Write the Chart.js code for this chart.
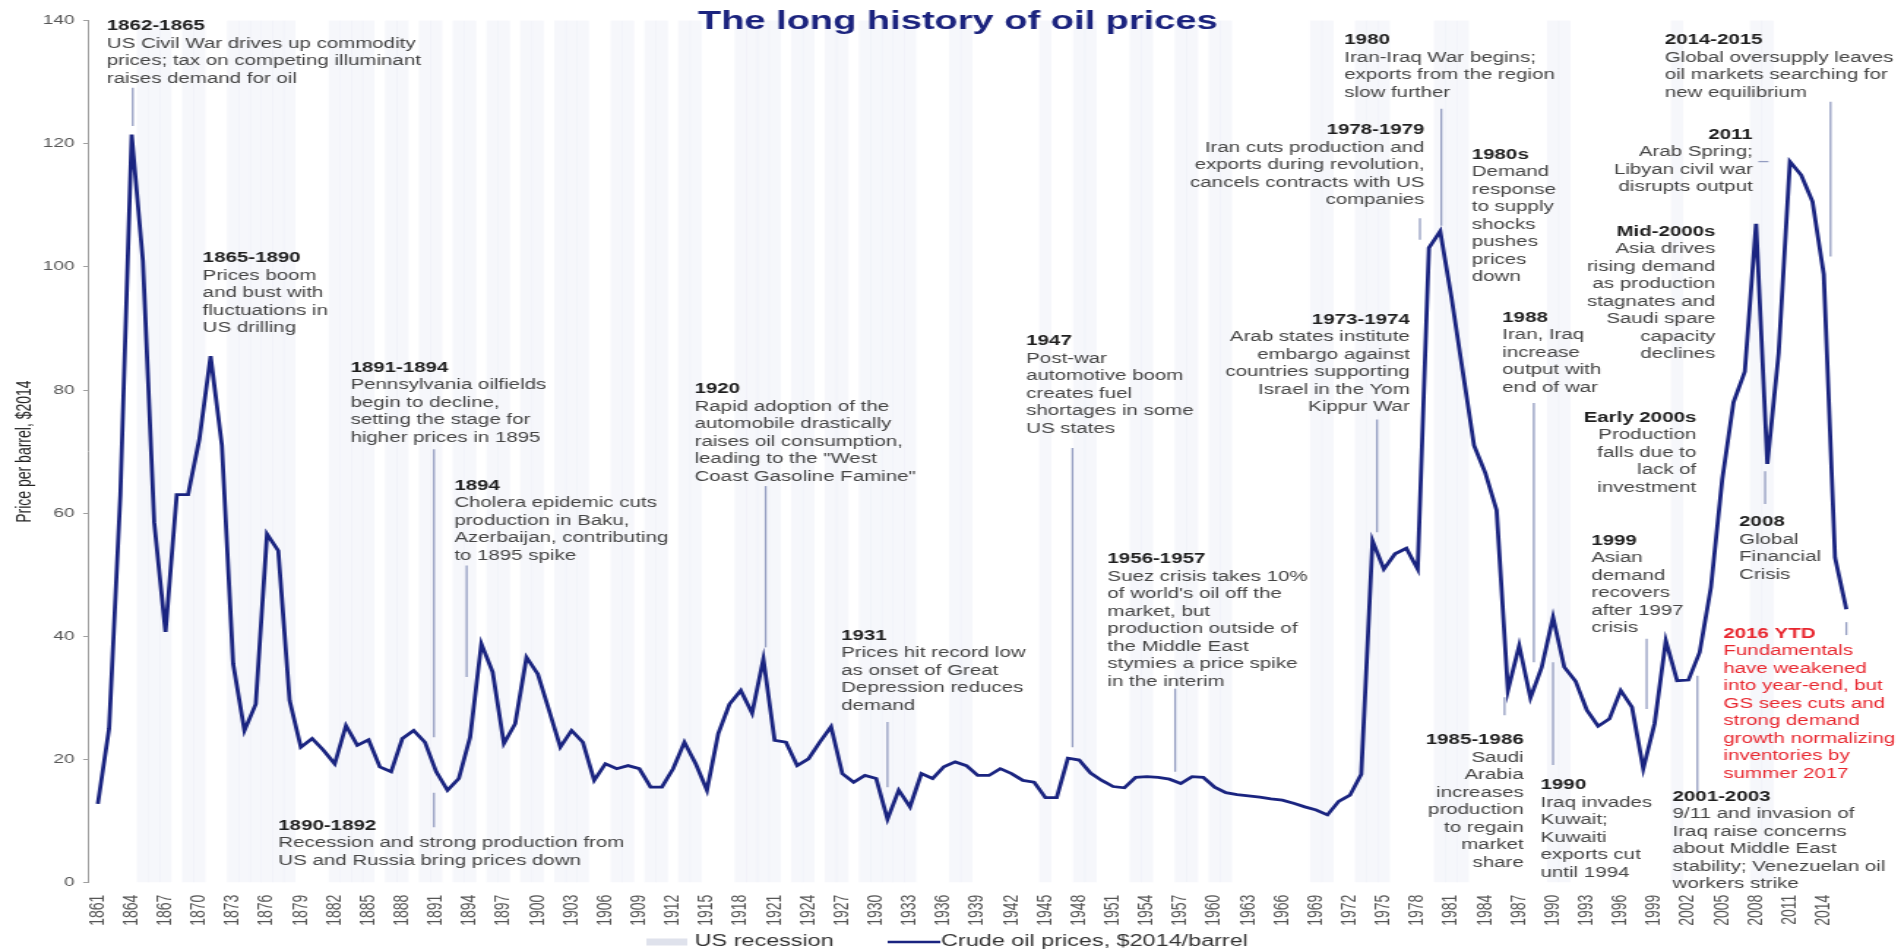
<!DOCTYPE html>
<html>
<head>
<meta charset="utf-8">
<title>The long history of oil prices</title>
<script src="https://cdn.jsdelivr.net/npm/chart.js@4.4.1/dist/chart.umd.min.js"></script>
<style>
  html, body { margin: 0; padding: 0; background: #fff; }
  #wrap { width: 1901px; height: 950px; overflow: hidden; }
  canvas { display: block; }
</style>
</head>
<body>
<div id="wrap">
  <!-- the source picture is stretched sideways, so the canvas is drawn narrow and widened by css -->
  <canvas id="chart" width="1300" height="950" style="width:1901px;height:950px"></canvas>
</div>
<script>
// crude oil prices, $2014/barrel, one value per year
const years = [
  1861, 1862, 1863, 1864, 1865, 1866, 1867, 1868, 1869, 1870,
  1871, 1872, 1873, 1874, 1875, 1876, 1877, 1878, 1879, 1880,
  1881, 1882, 1883, 1884, 1885, 1886, 1887, 1888, 1889, 1890,
  1891, 1892, 1893, 1894, 1895, 1896, 1897, 1898, 1899, 1900,
  1901, 1902, 1903, 1904, 1905, 1906, 1907, 1908, 1909, 1910,
  1911, 1912, 1913, 1914, 1915, 1916, 1917, 1918, 1919, 1920,
  1921, 1922, 1923, 1924, 1925, 1926, 1927, 1928, 1929, 1930,
  1931, 1932, 1933, 1934, 1935, 1936, 1937, 1938, 1939, 1940,
  1941, 1942, 1943, 1944, 1945, 1946, 1947, 1948, 1949, 1950,
  1951, 1952, 1953, 1954, 1955, 1956, 1957, 1958, 1959, 1960,
  1961, 1962, 1963, 1964, 1965, 1966, 1967, 1968, 1969, 1970,
  1971, 1972, 1973, 1974, 1975, 1976, 1977, 1978, 1979, 1980,
  1981, 1982, 1983, 1984, 1985, 1986, 1987, 1988, 1989, 1990,
  1991, 1992, 1993, 1994, 1995, 1996, 1997, 1998, 1999, 2000,
  2001, 2002, 2003, 2004, 2005, 2006, 2007, 2008, 2009, 2010,
  2011, 2012, 2013, 2014, 2015, 2016
];
const prices = [
  12.8, 25.0, 63.0, 121.5, 101.0, 58.5, 40.7, 63.0, 63.0, 72.0,
  85.5, 71.0, 35.5, 24.7, 29.0, 56.6, 53.9, 29.6, 22.0, 23.4,
  21.5, 19.3, 25.5, 22.3, 23.2, 18.8, 18.0, 23.4, 24.7, 22.8,
  18.0, 15.0, 16.9, 23.6, 38.8, 34.2, 22.6, 25.8, 36.6, 33.9,
  28.0, 22.0, 24.7, 22.8, 16.6, 19.3, 18.5, 19.0, 18.5, 15.5,
  15.5, 18.5, 22.8, 19.3, 15.0, 24.2, 29.0, 31.2, 27.5, 36.3,
  23.1, 22.8, 19.0, 20.1, 22.8, 25.3, 17.7, 16.3, 17.4, 16.9,
  10.3, 15.0, 12.3, 17.7, 16.9, 18.8, 19.6, 19.0, 17.4, 17.4,
  18.5, 17.7, 16.6, 16.3, 13.8, 13.8, 20.2, 19.9, 17.8, 16.6,
  15.6, 15.4, 17.1, 17.2, 17.1, 16.8, 16.1, 17.2, 17.1, 15.5,
  14.6, 14.3, 14.1, 13.9, 13.6, 13.4, 12.9, 12.3, 11.8, 11.0,
  13.2, 14.2, 17.6, 55.5, 50.9, 53.4, 54.3, 50.9, 103.1, 105.8,
  95.0, 83.0, 71.0, 66.5, 60.5, 31.2, 38.5, 30.0, 35.0, 43.1,
  35.0, 32.7, 28.0, 25.4, 26.6, 31.2, 28.5, 18.5, 25.8, 39.3,
  32.8, 32.9, 37.4, 48.0, 65.5, 78.0, 83.0, 107.0, 68.0, 86.0,
  117.1, 114.9, 110.6, 98.8, 52.8, 44.4
];
// years shaded as US recession
const recessionYears = [
  1865, 1866, 1867, 1869, 1870, 1873, 1874, 1875, 1876, 1877, 1878,
  1882, 1883, 1884, 1885, 1887, 1888, 1890, 1891, 1893, 1894, 1896, 1897,
  1899, 1900, 1902, 1903, 1904, 1907, 1908, 1910, 1911, 1913, 1914,
  1918, 1919, 1920, 1921, 1923, 1924, 1926, 1927, 1929, 1930, 1931, 1932, 1933,
  1937, 1938, 1945, 1948, 1949, 1953, 1954, 1957, 1958, 1960, 1961,
  1969, 1970, 1973, 1974, 1975, 1980, 1981, 1982, 1990, 1991, 2001, 2008, 2009
];
const tickYears = [
  1861, 1864, 1867, 1870, 1873, 1876, 1879, 1882, 1885, 1888, 1891, 1894, 1897,
  1900, 1903, 1906, 1909, 1912, 1915, 1918, 1921, 1924, 1927, 1930, 1933, 1936,
  1939, 1942, 1945, 1948, 1951, 1954, 1957, 1960, 1963, 1966, 1969, 1972, 1975,
  1978, 1981, 1984, 1987, 1990, 1993, 1996, 1999, 2002, 2005, 2008, 2011, 2014
];

// event notes: at = [year, price] of the first text line, lead = [year, from, to]
const notes = [
  {title: '1862-1865', lines: ['US Civil War drives up commodity', 'prices; tax on competing illuminant', 'raises demand for oil'], at: [1861.8, 139.1], align: 'left', lead: [1864.1, 129.1, 122.9]},
  {title: '1865-1890', lines: ['Prices boom', 'and bust with', 'fluctuations in', 'US drilling'], at: [1870.3, 101.4], align: 'left'},
  {title: '1891-1894', lines: ['Pennsylvania oilfields', 'begin to decline,', 'setting the stage for', 'higher prices in 1895'], at: [1883.4, 83.6], align: 'left', lead: [1890.8, 70.4, 23.6]},
  {title: '1894', lines: ['Cholera epidemic cuts', 'production in Baku,', 'Azerbaijan, contributing', 'to 1895 spike'], at: [1892.6, 64.4], align: 'left', lead: [1893.7, 51.5, 33.4]},
  {title: '1890-1892', lines: ['Recession and strong production from', 'US and Russia bring prices down'], at: [1877.0, 9.2], align: 'left', lead: [1890.8, 14.6, 9.0]},
  {title: '1920', lines: ['Rapid adoption of the', 'automobile drastically', 'raises oil consumption,', 'leading to the "West', 'Coast Gasoline Famine"'], at: [1913.9, 80.1], align: 'left', lead: [1920.2, 64.4, 38.2]},
  {title: '1931', lines: ['Prices hit record low', 'as onset of Great', 'Depression reduces', 'demand'], at: [1926.9, 40.1], align: 'left', lead: [1931.0, 26.1, 15.5]},
  {title: '1947', lines: ['Post-war', 'automotive boom', 'creates fuel', 'shortages in some', 'US states'], at: [1943.3, 87.9], align: 'left', lead: [1947.4, 70.6, 22.0]},
  {title: '1956-1957', lines: ['Suez crisis takes 10%', "of world's oil off the", 'market, but', 'production outside of', 'the Middle East', 'stymies a price spike', 'in the interim'], at: [1950.5, 52.5], align: 'left', lead: [1956.5, 31.5, 18.0]},
  {title: '1973-1974', lines: ['Arab states institute', 'embargo against', 'countries supporting', 'Israel in the Yom', 'Kippur War'], at: [1977.3, 91.4], align: 'right', lead: [1974.4, 75.2, 56.9]},
  {title: '1978-1979', lines: ['Iran cuts production and', 'exports during revolution,', 'cancels contracts with US', 'companies'], at: [1978.6, 122.2], align: 'right', lead: [1978.2, 107.9, 104.4]},
  {title: '1980', lines: ['Iran-Iraq War begins;', 'exports from the region', 'slow further'], at: [1971.5, 136.8], align: 'left', lead: [1980.1, 125.7, 106.7]},
  {title: '1980s', lines: ['Demand', 'response', 'to supply', 'shocks', 'pushes', 'prices', 'down'], at: [1982.8, 118.2], align: 'left'},
  {title: '1988', lines: ['Iran, Iraq', 'increase', 'output with', 'end of war'], at: [1985.5, 91.7], align: 'left', lead: [1988.3, 77.9, 35.8]},
  {title: '1985-1986', lines: ['Saudi', 'Arabia', 'increases', 'production', 'to regain', 'market', 'share'], at: [1987.4, 23.1], align: 'right', lead: [1985.7, 30.1, 27.2]},
  {title: '1990', lines: ['Iraq invades', 'Kuwait;', 'Kuwaiti', 'exports cut', 'until 1994'], at: [1988.9, 15.8], align: 'left', lead: [1990.0, 35.8, 19.1]},
  {title: 'Early 2000s', lines: ['Production', 'falls due to', 'lack of', 'investment'], at: [2002.7, 75.5], align: 'right'},
  {title: '2008', lines: ['Global', 'Financial', 'Crisis'], at: [2006.5, 58.5], align: 'left', lead: [2008.8, 66.8, 61.5]},
  {title: 'Mid-2000s', lines: ['Asia drives', 'rising demand', 'as production', 'stagnates and', 'Saudi spare', 'capacity', 'declines'], at: [2004.4, 105.7], align: 'right'},
  {title: '2011', lines: ['Arab Spring;', 'Libyan civil war', 'disrupts output'], at: [2007.7, 121.4], align: 'right', dash: [2008.2, 2009.1, 117.1]},
  {title: '2014-2015', lines: ['Global oversupply leaves', 'oil markets searching for', 'new equilibrium'], at: [1999.9, 136.8], align: 'left', lead: [2014.6, 126.8, 101.7]},
  {title: '2016 YTD', lines: ['Fundamentals', 'have weakened', 'into year-end, but', 'GS sees cuts and', 'strong demand', 'growth normalizing', 'inventories by', 'summer 2017'], at: [2005.1, 40.4], align: 'left', lead: [2016.0, 42.3, 40.2], red: true},
  {title: '1999', lines: ['Asian', 'demand', 'recovers', 'after 1997', 'crisis'], at: [1993.4, 55.5], align: 'left', lead: [1998.3, 39.6, 28.2]},
  {title: '2001-2003', lines: ['9/11 and invasion of', 'Iraq raise concerns', 'about Middle East', 'stability; Venezuelan oil', 'workers strike'], at: [2000.6, 13.9], align: 'left', lead: [2002.8, 33.6, 14.7]}
];

const FONT = '"Liberation Sans", Arial, Helvetica, sans-serif';
const NAVY = '#1a2480';
const Y_MAX = 140;

Chart.defaults.font.family = FONT;

const notePlugin = {
  id: 'notes',
  afterDatasetsDraw(chart) {
    const {ctx} = chart;
    const x = chart.scales.x, y = chart.scales.y;
    ctx.save();
    ctx.strokeStyle = '#939cc0';
    ctx.lineWidth = 1.3;
    notes.forEach(n => {
      if (n.lead) {
        const lx = x.getPixelForValue(n.lead[0]);
        ctx.beginPath();
        ctx.moveTo(lx, y.getPixelForValue(n.lead[1]));
        ctx.lineTo(lx, y.getPixelForValue(n.lead[2]));
        ctx.stroke();
      }
      if (n.dash) {
        const dy = y.getPixelForValue(n.dash[2]);
        ctx.beginPath();
        ctx.moveTo(x.getPixelForValue(n.dash[0]), dy);
        ctx.lineTo(x.getPixelForValue(n.dash[1]), dy);
        ctx.stroke();
      }
      const tx = x.getPixelForValue(n.at[0]);
      const ty = y.getPixelForValue(n.at[1]);
      ctx.textAlign = n.align;
      ctx.textBaseline = 'middle';
      ctx.font = 'bold 14px ' + FONT;
      ctx.fillStyle = n.red ? '#e8262e' : '#1e1e1e';
      ctx.fillText(n.title, tx, ty);
      ctx.font = '14px ' + FONT;
      ctx.fillStyle = n.red ? '#e8262e' : '#444';
      n.lines.forEach((t, i) => ctx.fillText(t, tx, ty + 17.5 * (i + 1)));
    });
    ctx.restore();
  }
};

// title on top and the legend row at the bottom
const framePlugin = {
  id: 'frame',
  afterDraw(chart) {
    const {ctx} = chart;
    ctx.save();
    ctx.textBaseline = 'middle';
    ctx.textAlign = 'center';
    ctx.font = 'bold 26px ' + FONT;
    ctx.fillStyle = '#1b237e';
    ctx.fillText('The long history of oil prices', 655, 22);

    ctx.textAlign = 'left';
    ctx.font = '16px ' + FONT;
    ctx.fillStyle = '#dfe2ec';
    ctx.fillRect(442, 938.5, 28, 7);
    ctx.fillStyle = '#333';
    ctx.fillText('US recession', 475, 942);

    ctx.strokeStyle = NAVY;
    ctx.lineWidth = 2.5;
    ctx.beginPath();
    ctx.moveTo(607, 942);
    ctx.lineTo(643, 942);
    ctx.stroke();
    ctx.fillStyle = '#333';
    ctx.fillText('Crude oil prices, $2014/barrel', 643.5, 942);
    ctx.restore();
  }
};

const ctx = document.getElementById('chart').getContext('2d');
const myChart = new Chart(ctx, {
  type: 'line',
  data: {
    datasets: [
      {
        type: 'line',
        label: 'Crude oil prices, $2014/barrel',
        data: years.map((yr, i) => ({x: yr, y: prices[i]})),
        borderColor: NAVY,
        borderWidth: 2.8,
        pointRadius: 0,
        tension: 0,
        fill: false,
        order: 0
      },
      {
        type: 'bar',
        label: 'US recession',
        data: recessionYears.map(yr => ({x: yr, y: Y_MAX})),
        backgroundColor: 'rgba(222, 226, 240, 0.26)',
        borderWidth: 0,
        categoryPercentage: 1,
        barPercentage: 1,
        order: 1
      }
    ]
  },
  options: {
    responsive: false,
    animation: false,
    devicePixelRatio: 1,
    layout: {padding: {left: 0, right: 33, top: 20.6, bottom: 24.4}},
    plugins: {
      legend: {display: false},
      tooltip: {enabled: false}
    },
    scales: {
      x: {
        type: 'linear',
        offset: false,
        min: 1860.22,
        max: 2016.57,
        afterBuildTicks: scale => { scale.ticks = tickYears.map(v => ({value: v})); },
        afterFit: scale => { scale.height = 43; },
        grid: {display: false, drawTicks: false, offset: false},
        border: {display: false},
        ticks: {
          autoSkip: false,
          minRotation: 90,
          maxRotation: 90,
          padding: 12,
          color: '#555',
          font: {size: 14},
          callback: v => String(v)
        }
      },
      y: {
        min: 0,
        max: Y_MAX,
        afterFit: scale => { scale.width = 60.86; },
        ticks: {stepSize: 20, padding: 6, color: '#555', font: {size: 13}},
        grid: {drawOnChartArea: false, drawTicks: true, tickLength: 4, color: '#a0a0a0'},
        border: {display: true, color: '#a0a0a0', width: 1},
        title: {
          display: true,
          text: 'Price per barrel, $2014',
          color: '#222',
          font: {size: 14},
          padding: {top: 9, bottom: 0}
        }
      }
    }
  },
  plugins: [notePlugin, framePlugin]
});
</script>
</body>
</html>
